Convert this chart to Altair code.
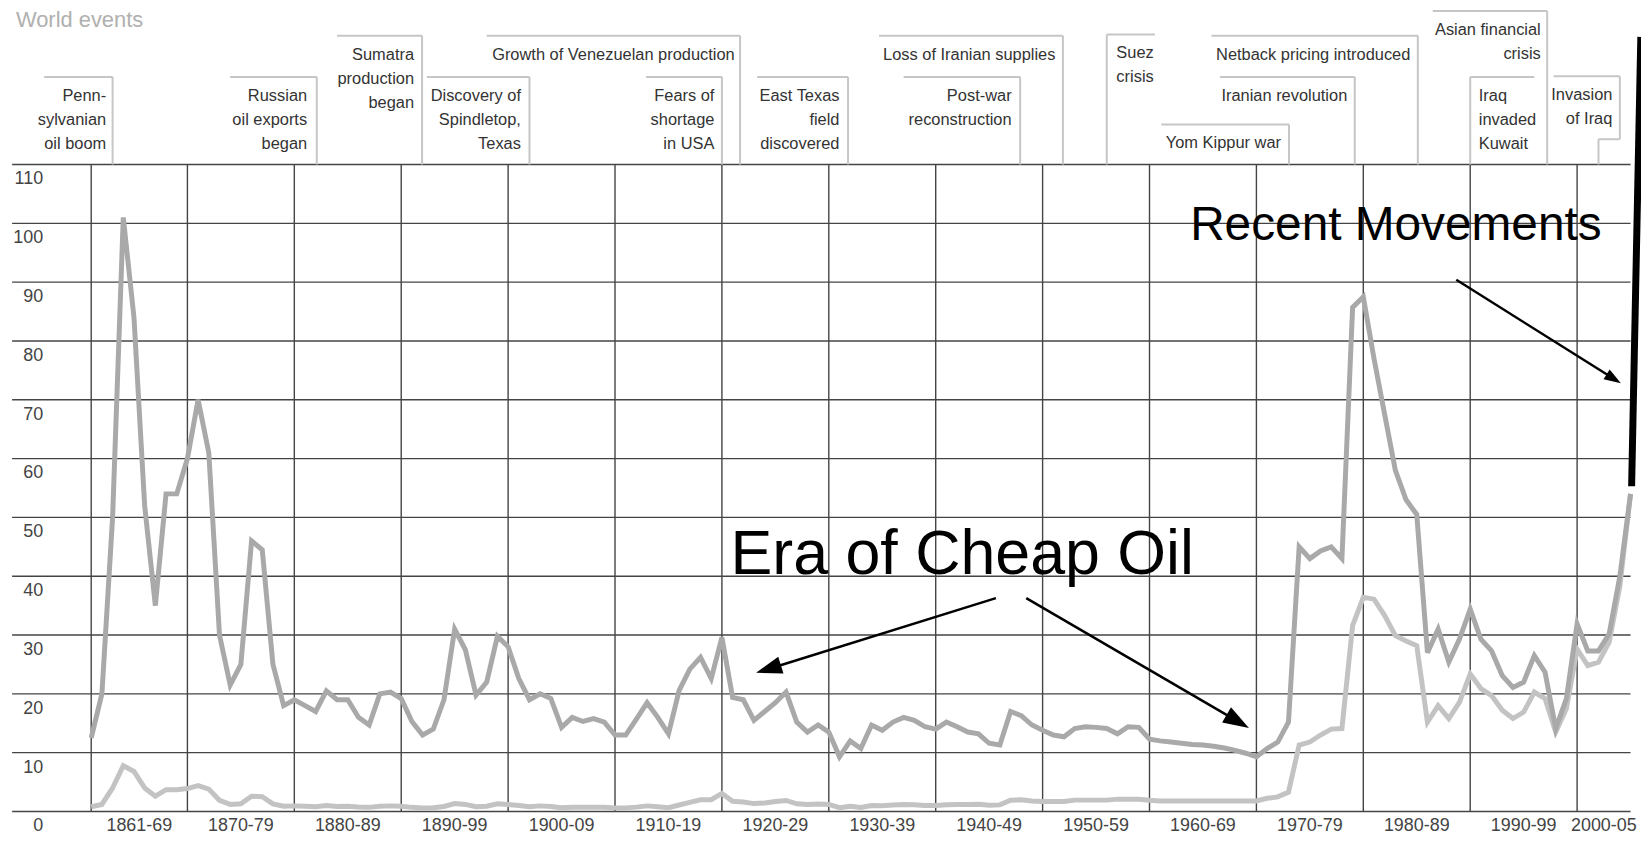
import math
import altair as alt
import pandas as pd

# ---------------- data ----------------
years = list(range(1861, 2006))

real_2005 = [
    12.5, 20, 50, 101, 84, 52, 35, 54, 54,
    60, 70, 61, 30, 21.5, 25, 46, 44.5, 25, 18,
    19, 18, 17, 20.5, 19, 19, 16, 14.7, 20, 20.3,
    19.2, 15.3, 13, 14, 19, 31, 27.5, 19.8, 22, 29.8,
    28, 22.6, 19, 20, 19.2, 14.3, 16, 15.3, 15.8, 15.2,
    13, 13, 15.7, 18.5, 16, 13.2, 20.6, 24.2, 26.2, 22.6,
    29.6, 19.4, 19, 15.5, 17, 18.5, 20.3, 15.2, 13.5, 14.7,
    13.5, 9.3, 12, 10.7, 14.7, 13.8, 15.2, 16, 15.5, 14.4,
    14, 15.2, 14.4, 13.5, 13.2, 11.6, 11.3, 17, 16.3, 14.7,
    13.8, 13, 12.7, 14.1, 14.4, 14.3, 14.1, 13.2, 14.4, 14.3,
    12.3, 12, 11.8, 11.6, 11.4, 11.3, 11.1, 10.8, 10.4, 9.9,
    9.3, 10.7, 11.8, 15.2, 45, 43, 44.3, 45, 43, 85.7,
    87.5, 77, 67.5, 58, 53, 50.5, 27, 31, 25.4, 29.3,
    34.4, 29.3, 27.3, 23.1, 21.1, 22, 26.5, 23.7, 14.1, 19.2,
    31.9, 27.3, 27.3, 30.2, 40, 54,
]

nominal = [
    0.8, 1.2, 4, 7.8, 6.8, 4, 2.6, 3.7, 3.7,
    3.9, 4.4, 3.8, 1.9, 1.2, 1.3, 2.6, 2.5, 1.3, 0.9,
    0.95, 0.9, 0.8, 1.0, 0.85, 0.9, 0.75, 0.7, 0.9, 0.95,
    0.9, 0.7, 0.6, 0.65, 0.85, 1.35, 1.2, 0.8, 0.9, 1.3,
    1.2, 1.0, 0.8, 0.95, 0.85, 0.62, 0.73, 0.72, 0.72, 0.7,
    0.61, 0.61, 0.74, 0.95, 0.81, 0.64, 1.1, 1.56, 1.98, 2.01,
    3.07, 1.73, 1.61, 1.34, 1.43, 1.68, 1.88, 1.3, 1.17, 1.27,
    1.19, 0.65, 0.87, 0.67, 1.0, 0.97, 1.09, 1.18, 1.13, 1.02,
    1.02, 1.14, 1.19, 1.2, 1.21, 1.05, 1.12, 1.9, 1.99, 1.78,
    1.71, 1.71, 1.71, 1.93, 1.93, 1.93, 1.93, 2.1, 2.08, 2.08,
    1.9, 1.8, 1.8, 1.8, 1.8, 1.8, 1.8, 1.8, 1.8, 1.8,
    1.8, 2.24, 2.48, 3.29, 11.3, 11.8, 13, 14, 14.1, 31.6,
    36.4, 36.1, 33.3, 29.9, 29, 28.2, 15.2, 18, 15.8, 18.6,
    23.4, 20.9, 19.7, 17.2, 15.8, 16.9, 20.3, 19.2, 13.5, 17.5,
    27.6, 24.8, 25.4, 28.8, 38.3, 54,
]

tick_values = [0, 10, 20, 30, 40, 50, 60, 70, 80, 90, 100, 110]
tick_labels = [str(v) for v in tick_values]
grid_years = [1861, 1870, 1880, 1890, 1900, 1910, 1920, 1930, 1940, 1950,
              1960, 1970, 1980, 1990, 2000]
period_labels = ["1861-69", "1870-79", "1880-89", "1890-99", "1900-09",
                 "1910-19", "1920-29", "1930-39", "1940-49", "1950-59",
                 "1960-69", "1970-79", "1980-89", "1990-99", "2000-05"]
period_mid = [1865.5, 1875, 1885, 1895, 1905, 1915, 1925, 1935, 1945, 1955,
              1965, 1975, 1985, 1995, 2002.5]

# World-events boxes (x in years, y in chart units above the 110 line)
event_lines = [
    ["Penn-", "sylvanian", "oil boom"],
    ["Russian", "oil exports", "began"],
    ["Sumatra", "production", "began"],
    ["Discovery of", "Spindletop,", "Texas"],
    ["Growth of Venezuelan production"],
    ["Fears of", "shortage", "in USA"],
    ["East Texas", "field", "discovered"],
    ["Loss of Iranian supplies"],
    ["Post-war", "reconstruction"],
    ["Suez", "crisis"],
    ["Netback pricing introduced"],
    ["Iranian revolution"],
    ["Yom Kippur war"],
    ["Asian financial", "crisis"],
    ["Iraq", "invaded", "Kuwait"],
    ["Invasion", "of Iraq"],
]
event_text_x = [1862.4, 1881.2, 1891.2, 1901.2, 1921.2, 1919.3, 1931.0, 1951.2,
                1947.1, 1956.9, 1984.4, 1978.5, 1972.3, 1996.6, 1990.8, 2003.3]
event_align = ["right"] * 9 + ["left"] + ["right"] * 4 + ["left", "right"]
event_top = [124.9, 124.9, 131.9, 124.9, 131.9, 124.9, 124.9, 131.9,
             124.9, 132.1, 131.9, 124.9, 116.8, 136.1, 124.9, 125.0]
event_left = [1856.6, 1874.0, 1884.0, 1892.4, 1898.0, 1912.9, 1923.3, 1934.7,
              1937.0, 1956.0, 1965.8, 1966.6, 1961.1, 1986.5, 1990.0, 1997.8]
event_right = [1863.0, 1882.1, 1891.95, 1902.0, 1921.7, 1920.0, 1931.8, 1951.9,
               1947.9, 1960.5, 1985.1, 1979.2, 1973.05, 1997.2, 1996.0, 2004.0]
event_side = [1863.0, 1882.1, 1891.95, 1902.0, 1921.7, 1920.0, 1931.8, 1951.9,
              1947.9, 1956.0, 1985.1, 1979.2, 1973.05, 1997.2, 1990.0, 2004.0]
invasion_notch = (2002.0, 114.3)

# annotations
big_text = ["Era of Cheap Oil", "Recent Movements"]
big_text_x = [1920.8, 1963.8]
big_text_y = [40.3, 97.2]
big_text_size = [63, 48]

arrow_x0 = [1945.63, 1948.47, 1988.7]
arrow_y0 = [36.27, 36.27, 90.4]
arrow_x1 = [1923.2, 1969.3, 2004.1]
arrow_y1 = [23.57, 14.2, 72.8]
head_len = [26, 26, 17]

recent_x = [2005.1, 2005.96]
recent_y = [55.3, 131.7]

# ---------------- layout ----------------
W, H = 1546.6, 650
X0, X1 = 1861, 2005
pxy = W / (X1 - X0)
pxv = H / 110.0

xs = alt.Scale(domain=[X0, X1], nice=False, zero=False)
ys = alt.Scale(domain=[0, 110], nice=False, zero=False)

FONT = "Liberation Sans"


def X(f):
    return alt.X(f, type="quantitative", scale=xs, axis=None)


def Y(f):
    return alt.Y(f, type="quantitative", scale=ys, axis=None)


# grids
hgrid_df = pd.DataFrame({"x": 1853.6, "x2": X1, "y": tick_values})
hgrid = alt.Chart(hgrid_df).mark_rule(color="#444444", strokeWidth=1.4).encode(
    x=X("x"), x2="x2", y=Y("y"))

vgrid_df = pd.DataFrame({"x": grid_years, "y": 0, "y2": 110})
vgrid = alt.Chart(vgrid_df).mark_rule(color="#444444", strokeWidth=1.4).encode(
    x=X("x"), y=Y("y"), y2="y2")

# y labels (sit just below their grid line, right-aligned left of the plot)
yl_df = pd.DataFrame({"t": tick_labels, "v": tick_values})
ylabels = alt.Chart(yl_df).transform_calculate(
    x="1856.5", y=f"datum.v - {15 / pxv:.4f}"
).mark_text(align="right", baseline="middle", font=FONT, fontSize=18,
            color="#444444").encode(x=X("x"), y=Y("y"), text="t:N")

# event boxes
seg = []
for i in range(len(event_lines)):
    top = event_top[i]
    seg.append((event_left[i], top, event_right[i], top))
    if i == len(event_lines) - 1:
        nx, ny = invasion_notch
        seg.append((event_side[i], top, event_side[i], ny))
        seg.append((event_side[i], ny, nx, ny))
        seg.append((nx, ny, nx, 110))
    else:
        seg.append((event_side[i], top, event_side[i], 110))
seg_df = pd.DataFrame(seg, columns=["x", "y", "x2", "y2"])
boxes = alt.Chart(seg_df).mark_rule(color="#c6c6c6", strokeWidth=2).encode(
    x=X("x"), y=Y("y"), x2="x2", y2="y2")

rows_r, rows_l = [], []
for i, lines in enumerate(event_lines):
    for j, t in enumerate(lines):
        r = {"t": t, "x": event_text_x[i], "y": event_top[i] - 3.2 - j * 4.1}
        (rows_r if event_align[i] == "right" else rows_l).append(r)
ev_r = alt.Chart(pd.DataFrame(rows_r)).mark_text(
    align="right", baseline="middle", font=FONT, fontSize=16.5, color="#333333"
).encode(x=X("x"), y=Y("y"), text="t:N")
ev_l = alt.Chart(pd.DataFrame(rows_l)).mark_text(
    align="left", baseline="middle", font=FONT, fontSize=16.5, color="#333333"
).encode(x=X("x"), y=Y("y"), text="t:N")

world_df = pd.DataFrame({"t": ["World events"], "x": [1853.96], "y": [133.4]})
world = alt.Chart(world_df).mark_text(
    align="left", baseline="alphabetic", font=FONT, fontSize=22, color="#b0b0b0"
).encode(x=X("x"), y=Y("y"), text="t:N")

# x labels
xl_df = pd.DataFrame({"t": period_labels, "x": period_mid, "y": -2.5})
xlabels = alt.Chart(xl_df).mark_text(
    align="center", baseline="middle", font=FONT, fontSize=18, color="#444444"
).encode(x=X("x"), y=Y("y"), text="t:N")

# price lines
df = pd.DataFrame({"year": years, "real": real_2005, "nominal": nominal})
nom_line = alt.Chart(df).mark_line(color="#c3c3c3", strokeWidth=5).encode(
    x=X("year"), y=Y("nominal"))
real_line = alt.Chart(df).mark_line(color="#a9a9a9", strokeWidth=5).encode(
    x=X("year"), y=Y("real"))

# annotations
big_df = pd.DataFrame({"t": big_text, "x": big_text_x, "y": big_text_y, "s": big_text_size})
big = alt.Chart(big_df).mark_text(
    align="left", baseline="alphabetic", font=FONT, color="black"
).encode(x=X("x"), y=Y("y"), text="t:N", size=alt.Size("s:Q", scale=None))

heads = []
shafts = []
for x0, y0, x1, y1, hl in zip(arrow_x0, arrow_y0, arrow_x1, arrow_y1, head_len):
    dxp = (x1 - x0) * pxy
    dyp = -(y1 - y0) * pxv
    L = math.hypot(dxp, dyp)
    ux, uy = dxp / L, dyp / L
    ang = math.degrees(math.atan2(dxp, -dyp)) % 360
    cx = x1 - ux * (hl / 2) / pxy
    cy = y1 + uy * (hl / 2) / pxv
    heads.append({"x": cx, "y": cy, "a": ang, "s": hl * hl})
    shafts.append({"x": x0, "y": y0, "x2": cx, "y2": cy})

shaft = alt.Chart(pd.DataFrame(shafts)).mark_rule(color="black", strokeWidth=2.5).encode(
    x=X("x"), y=Y("y"), x2="x2", y2="y2")
head = alt.Chart(pd.DataFrame(heads)).mark_point(
    shape="M0,-1L-0.68,1L0.68,1Z", filled=True, color="black", opacity=1, strokeWidth=0
).encode(x=X("x"), y=Y("y"), angle=alt.Angle("a:Q", scale=None),
         size=alt.Size("s:Q", scale=None))

recent_df = pd.DataFrame({"x": [recent_x[0]], "y": [recent_y[0]],
                          "x2": [recent_x[1]], "y2": [recent_y[1]]})
recent = alt.Chart(recent_df).mark_rule(color="black", strokeWidth=7).encode(
    x=X("x"), y=Y("y"), x2="x2", y2="y2")

chart = alt.layer(
    hgrid, vgrid, ylabels, boxes, ev_r, ev_l, world, xlabels,
    nom_line, real_line, recent, big, shaft, head
).properties(
    width=W, height=H,
    padding={"left": 83.6, "top": 155.3, "right": 10.5, "bottom": 28},
    autosize=alt.AutoSizeParams(type="none"),
    background="white",
).configure_view(stroke=None)

chart.save("out.html", embed_options={"renderer": "svg", "actions": False})
